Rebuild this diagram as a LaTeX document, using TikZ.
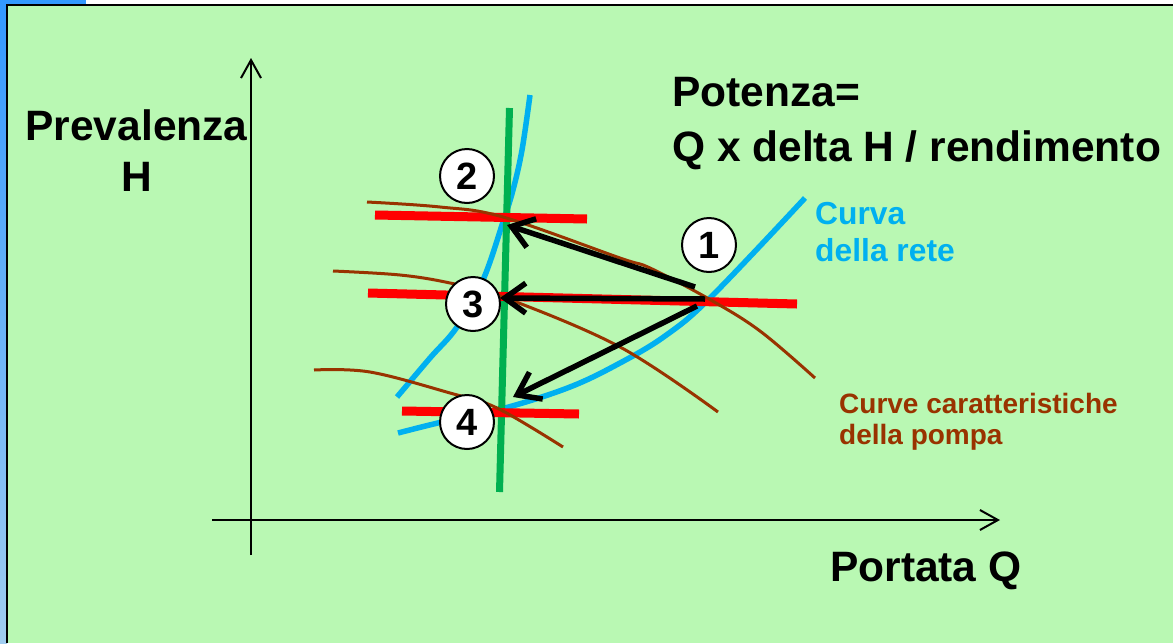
\documentclass[tikz,border=0pt]{standalone}
\usepackage{fontspec}
\setmainfont{Liberation Sans}
\usetikzlibrary{arrows.meta}
\definecolor{bg}{RGB}{185,248,179}
\definecolor{netblue}{RGB}{0,176,240}
\definecolor{pumpbrown}{RGB}{153,51,0}
\definecolor{redl}{RGB}{255,0,0}
\definecolor{greenl}{RGB}{0,176,80}
\definecolor{edgeblue}{RGB}{51,153,255}
\definecolor{edgeblue2}{RGB}{160,205,240}
\begin{document}
\begin{tikzpicture}[x=1pt,y=-1pt,
  bigtxt/.style={inner sep=0pt, font=\fontsize{42.5}{50}\selectfont\bfseries},
  bluetxt/.style={inner sep=0pt, text=netblue, font=\fontsize{31.8}{37}\selectfont\bfseries},
  browntxt/.style={inner sep=0pt, text=pumpbrown, font=\fontsize{28}{32}\selectfont\bfseries},
  numcircle/.style={circle, draw=black, line width=2pt, fill=white, minimum size=54pt, inner sep=0pt, font=\fontsize{38}{40}\selectfont\bfseries},
  axisline/.style={line width=2pt, -{Straight Barb[length=18pt,width=20pt]}},
  netcurve/.style={netblue, line width=5.5pt},
  pumpcurve/.style={pumpbrown, line width=3pt},
  opline/.style={redl, line width=9pt},
  movearrow/.style={black, line width=5.5pt, -{Straight Barb[length=21pt,width=30pt]}}
]
\useasboundingbox (0,0) rectangle (1173,643);
% background and frame
\fill[white] (0,0) rectangle (1173,5);
\fill[edgeblue] (0,0) rectangle (86,5);
\shade[top color=edgeblue, bottom color=edgeblue2] (0,0) rectangle (7,643);
\fill[bg] (7,5) rectangle (1173,643);
\draw[black, line width=2pt] (1173,5) -- (7,5) -- (7,643);

% axes
\coordinate (yb) at (251,555);
\coordinate (yt) at (251,58);
\coordinate (xl) at (212,520);
\coordinate (xr) at (1000,520);
\draw[axisline] (yb) -- (yt);
\draw[axisline] (xl) -- (xr);

% network curves
\draw[netcurve] plot[smooth, tension=0.6] coordinates {(397,397) (430,358) (457,327) (483,280) (503,222) (513,190) (522,150) (530,95)};
\draw[netcurve] plot[smooth, tension=0.6] coordinates {(398,433) (442,422) (505,408) (570,387) (620,363) (665,336) (710,298) (805,198)};

% constant flow line
\draw[greenl, line width=7pt] (509.5,108) -- (499.5,492);

% operating lines
\draw[opline] (375,215) -- (587,219);
\draw[opline] (368,293) -- (797,304);
\draw[opline] (402,411) -- (579,414);

% pump curves
\draw[pumpcurve] plot[smooth, tension=0.6] coordinates {(367,202) (440,207) (503,217) (620,258) (650,268) (709,299) (760,331) (815,378)};
\draw[pumpcurve] plot[smooth, tension=0.6] coordinates {(333,271) (400,275) (450,283) (503,297) (620,347) (718,412)};
\draw[pumpcurve] plot[smooth, tension=0.6] coordinates {(314,370) (370,372) (450,393) (497,408) (563,447)};

% arrows
\coordinate (s1) at (695,287);
\coordinate (s2) at (705,299);
\coordinate (s3) at (697,306);
\coordinate (e2) at (507,225);
\coordinate (e3) at (500,298);
\coordinate (e4) at (513,397);
\draw[movearrow] (s1) -- (e2);
\draw[movearrow] (s2) -- (e3);
\draw[movearrow] (s3) -- (e4);

% numbered points
\node[numcircle] (c1) at (709,245) {1};
\node[numcircle] (c2) at (467,176) {2};
\node[numcircle] (c3) at (473,304) {3};
\node[numcircle] (c4) at (467,422) {4};

% labels
\node[bigtxt, anchor=base] (prev) at (136.5,140) {Prevalenza};
\node[bigtxt, anchor=base] (hh) at (136.5,191.7) {H};
\node[bigtxt, anchor=base west] (pot1) at (672,106.7) {Potenza=};
\node[bigtxt, anchor=base west] (pot2) at (672,161.7) {Q x delta H / rendimento};
\node[bigtxt, anchor=base west] (port) at (830,581) {Portata Q};
\node[bluetxt, anchor=base west] (cr1) at (815,224.3) {Curva};
\node[bluetxt, anchor=base west] (cr2) at (815,261.7) {della rete};
\node[browntxt, anchor=base west] (cp1) at (839,413.3) {Curve caratteristiche};
\node[browntxt, anchor=base west] (cp2) at (839,444.5) {della pompa};
\end{tikzpicture}
\end{document}
